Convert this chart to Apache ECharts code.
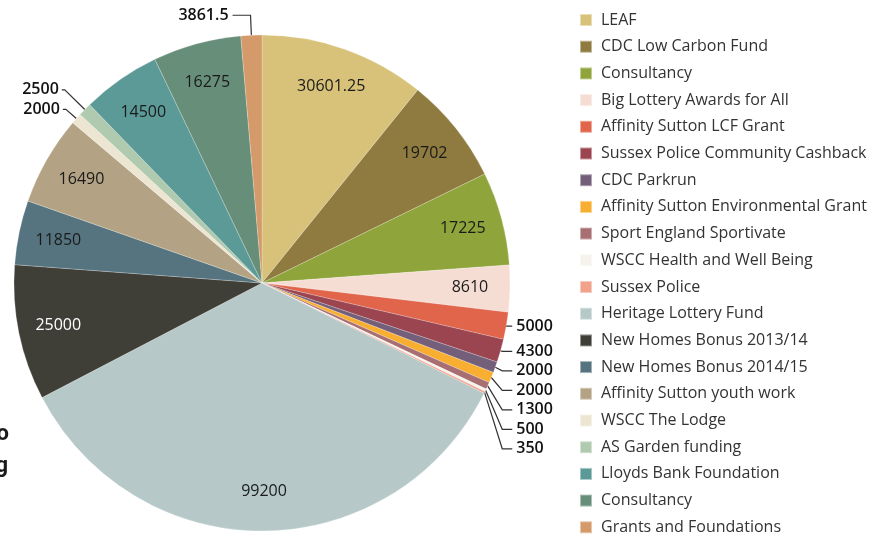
<!DOCTYPE html>
<html>
<head>
<meta charset="utf-8">
<script src="https://cdn.jsdelivr.net/npm/echarts@6/dist/echarts.min.js"></script>
<style>
  html, body { margin: 0; padding: 0; background: #fff; }
  #chart { width: 878px; height: 536px; }
</style>
</head>
<body>
<div id="chart"></div>
<script>
// funding sources, in the order they go round the pie (clockwise from the top)
const names = [
  'LEAF', 'CDC Low Carbon Fund', 'Consultancy', 'Big Lottery Awards for All',
  'Affinity Sutton LCF Grant', 'Sussex Police Community Cashback', 'CDC Parkrun',
  'Affinity Sutton Environmental Grant', 'Sport England Sportivate',
  'WSCC Health and Well Being', 'Sussex Police', 'Heritage Lottery Fund',
  'New Homes Bonus 2013/14', 'New Homes Bonus 2014/15', 'Affinity Sutton youth work',
  'WSCC The Lodge', 'AS Garden funding', 'Lloyds Bank Foundation', 'Consultancy ',
  'Grants and Foundations'
];
const amounts = [
  30601.25, 19702, 17225, 8610, 5000, 4300, 2000, 2000, 1300, 500, 350,
  99200, 25000, 11850, 16490, 2000, 2500, 14500, 16275, 3861.5
];
const colors = [
  '#d8c27a', '#8f7b40', '#8fa43a', '#f5ddd4', '#e0654b', '#9b4550', '#745f7a',
  '#f8ae31', '#a86f73', '#f5f3ec', '#f2a18a', '#b6c8c8', '#403f37', '#56747f',
  '#b3a384', '#ece5d1', '#b0cab0', '#5c9a98', '#678e78', '#d49a69'
];
// which slices get their value written inside, and which get a leader line
const insideLabel = [true, true, true, true, false, false, false, false, false, false, false,
  true, true, true, true, false, false, true, true, false];

const chart = echarts.init(document.getElementById('chart'));

const FONT = 'Open Sans';

function isRightStack(i) {
  return i >= 4 && i <= 10;
}

function outsideLabelOpts(i) {
  // right hand side small slices are stacked and lined up
  if (isRightStack(i)) {
    return {
      label: { show: true, alignTo: 'labelLine', distanceToLabelLine: 4, lineHeight: 17.5 },
      labelLine: { show: true, length: 2, length2: 4 }
    };
  }
  if (i === 15) { // WSCC The Lodge
    return { label: { show: true, distanceToLabelLine: 3 }, labelLine: { show: true, length: 14, length2: 3 } };
  }
  if (i === 16) { // AS Garden
    return { label: { show: true, distanceToLabelLine: 3 }, labelLine: { show: true, length: 28, length2: 3 } };
  }
  // Grants and Foundations at the top
  return { label: { show: true, distanceToLabelLine: 4 }, labelLine: { show: true, length: 20, length2: 18 } };
}

const mainData = names.map((n, i) => {
  const item = { name: n, value: amounts[i], itemStyle: { color: colors[i] } };
  if (insideLabel[i]) {
    item.label = { show: false };
    item.labelLine = { show: false };
  } else {
    Object.assign(item, outsideLabelOpts(i));
  }
  return item;
});

// transparent ring on top, only used to put the inside labels further out
const ringData = names.map((n, i) => ({
  name: n,
  value: amounts[i],
  itemStyle: { color: 'rgba(0,0,0,0)', borderWidth: 0 },
  label: {
    show: insideLabel[i],
    color: i === 12 ? '#ffffff' : '#1a1a1a'
  }
}));

const option = {
  animation: false,
  legend: {
    orient: 'vertical',
    left: 574,
    top: 7,
    height: 530,
    data: names,
    icon: 'rect',
    itemWidth: 12,
    itemHeight: 12,
    itemGap: 10.7,
    selectedMode: false,
    textStyle: {
      fontFamily: FONT,
      fontSize: 16,
      color: '#333',
      padding: [0, 0, 0, 4]
    }
  },
  graphic: [
    {
      type: 'text', x: 9, y: 434,
      style: { text: '2013 to', textAlign: 'right', textVerticalAlign: 'middle',
        font: 'bold 22px Roboto', fill: '#1a1a1a', stroke: '#fff', lineWidth: 2 }
    },
    {
      type: 'text', x: 8, y: 466,
      style: { text: 'funding', textAlign: 'right', textVerticalAlign: 'middle',
        font: 'bold 22px Roboto', fill: '#1a1a1a', stroke: '#fff', lineWidth: 2 }
    }
  ],
  series: [
    {
      type: 'pie',
      center: [262, 283],
      radius: [0, 248],
      startAngle: 90,
      avoidLabelOverlap: true,
      itemStyle: { borderColor: 'rgba(255,255,255,0.45)', borderWidth: 0.5 },
      label: {
        position: 'outer',
        formatter: '{c}',
        fontFamily: FONT,
        fontSize: 16,
        fontWeight: 600,
        color: '#111'
      },
      labelLine: {
        lineStyle: { color: '#333', width: 1.2 }
      },
      // stacked labels on the right: short horizontal tail, diagonal run back to the slice
      labelLayout: function (params) {
        if (!isRightStack(params.dataIndex) || !params.labelLinePoints) return {};
        const r = params.labelRect;
        const y = r.y + r.height / 2;
        const pts = params.labelLinePoints;
        return {
          labelLinePoints: [pts[0], [r.x - 14, y], [r.x - 4, y]]
        };
      },
      emphasis: { disabled: true },
      data: mainData
    },
    {
      type: 'pie',
      silent: true,
      center: [262, 283],
      radius: [162, 248],
      startAngle: 90,
      label: {
        position: 'inside',
        formatter: '{c}',
        fontFamily: FONT,
        fontSize: 16
      },
      labelLine: { show: false },
      emphasis: { disabled: true },
      data: ringData
    }
  ]
};

chart.setOption(option);
</script>
</body>
</html>
